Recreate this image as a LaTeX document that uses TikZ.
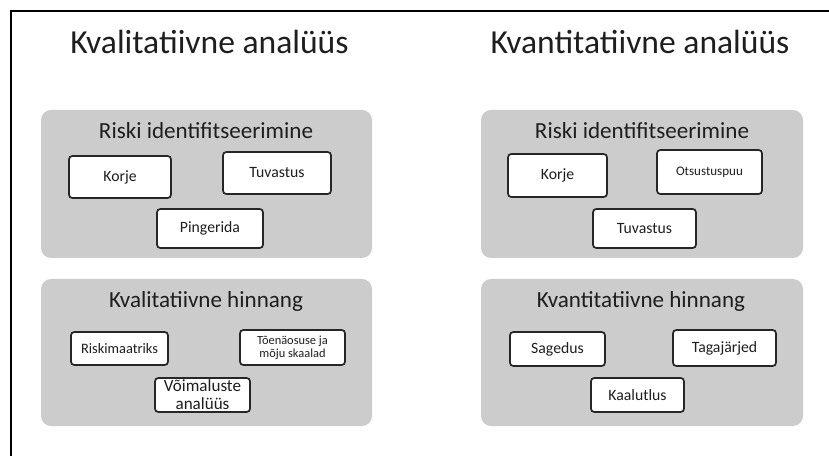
\documentclass[tikz,border=0pt]{standalone}
\usepackage{fontspec}
\setmainfont{Carlito}
\definecolor{panelgray}{HTML}{CCCCCC}
\definecolor{inkdark}{HTML}{1E1E1E}
\definecolor{boxline}{HTML}{262626}
\tikzset{
  panel/.style={fill=panelgray, draw=none, rounded corners=7.5pt, inner sep=0pt},
  itembox/.style={fill=white, draw=boxline, line width=1.3pt, rounded corners=2.5pt,
    inner sep=0pt, align=center, text=inkdark, font=\fontsize{11.8}{13}\selectfont},
  smallbox/.style={itembox, font=\fontsize{9.3}{9.8}\selectfont},
  titletext/.style={anchor=base, text=inkdark, font=\fontsize{25.2}{30}\selectfont, inner sep=0pt},
  headtext/.style={anchor=base, text=inkdark, font=\fontsize{17.3}{20}\selectfont, inner sep=0pt},
}
\begin{document}
\begin{tikzpicture}[x=0.75pt, y=-0.75pt]
\useasboundingbox (0,0) rectangle (829,456);
% frame
\coordinate (ftr) at (829,11);
\coordinate (ftl) at (11,11);
\coordinate (fbl) at (11,456);
\draw[line width=1.6pt] (ftr) -- (ftl) -- (fbl);

% titles
\node[titletext] (t1) at (209.5,54) {Kvalitatiivne analüüs};
\node[titletext] (t2) at (640,54) {Kvantitatiivne analüüs};

% panels
\node[panel, minimum width=248.25pt, minimum height=111pt] (p1) at (206.5,184) {};
\node[panel, minimum width=241.5pt, minimum height=111pt] (p2) at (642,184) {};
\node[panel, minimum width=248.25pt, minimum height=110.25pt] (p3) at (206.5,352.5) {};
\node[panel, minimum width=241.5pt, minimum height=110.25pt] (p4) at (642,352.5) {};

% headings
\node[headtext] (h1) at (206,139) {Riski identifitseerimine};
\node[headtext] (h2) at (642,139) {Riski identifitseerimine};
\node[headtext] (h3) at (206,308) {Kvalitatiivne hinnang};
\node[headtext] (h4) at (641,308) {Kvantitatiivne hinnang};

% left upper
\node[itembox, minimum width=76.5pt, minimum height=31.5pt] (lkorje) at (120,177) {Korje};
\node[itembox, minimum width=81pt, minimum height=31.5pt] (ltuv) at (277,173) {Tuvastus};
\node[itembox, minimum width=79.5pt, minimum height=29.25pt] (lping) at (210,228.5) {Pingerida};

% right upper
\node[itembox, minimum width=74.25pt, minimum height=32.25pt] (rkorje) at (557.5,175.5) {Korje};
\node[smallbox, font=\fontsize{9.8}{10.5}\selectfont, minimum width=78.75pt, minimum height=33pt] (rotsus) at (709.5,172) {Otsustuspuu};
\node[itembox, minimum width=77.25pt, minimum height=29.25pt] (rtuv) at (644.5,228.5) {Tuvastus};

% left lower
\node[smallbox, font=\fontsize{10.8}{12}\selectfont, minimum width=72.75pt, minimum height=24.75pt] (lrisk) at (119.5,348.5) {Riskimaatriks};
\node[smallbox, minimum width=78.75pt, minimum height=26.25pt] (ltoen) at (292.5,347.5) {Tõenäosuse ja\\mõju skaalad};
\node[itembox, font=\fontsize{12.8}{13.6}\selectfont, minimum width=71.25pt, minimum height=25.5pt] (lvoim) at (202.5,395) {Võimaluste\\analüüs};

% right lower
\node[itembox, minimum width=71.25pt, minimum height=25.5pt] (rsag) at (557.5,349) {Sagedus};
\node[itembox, minimum width=77.25pt, minimum height=27pt] (rtag) at (724.5,348) {Tagajärjed};
\node[itembox, minimum width=69.75pt, minimum height=25.5pt] (rkaal) at (637.5,395) {Kaalutlus};
\end{tikzpicture}
\end{document}
